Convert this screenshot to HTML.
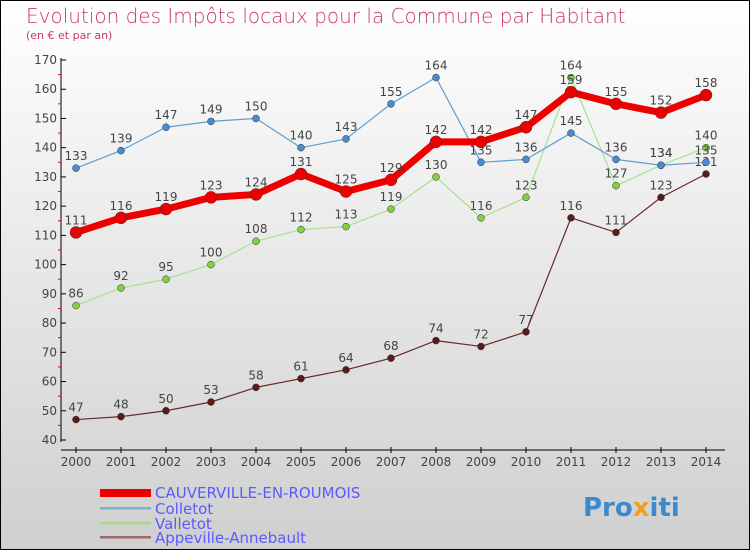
<!DOCTYPE html>
<html><head><meta charset="utf-8"><style>
body{margin:0}
svg{display:block;font-family:"DejaVu Sans","Liberation Sans",sans-serif}
</style></head><body>
<svg id="c" width="750" height="550" viewBox="0 0 750 550">
<defs><linearGradient id="bg" x1="0" y1="0" x2="0" y2="1"><stop offset="0" stop-color="#ffffff"/><stop offset="1" stop-color="#cfcfcf"/></linearGradient></defs>
<rect x="0.5" y="0.5" width="749" height="549" fill="url(#bg)" stroke="#000"/>
<text x="26" y="23" font-size="20" fill="#c8386a" font-weight="200">Evolution des Impôts locaux pour la Commune par Habitant</text>
<text x="26" y="39" font-size="11" fill="#c8386a">(en € et par an)</text>
<g id="axes"></g><g id="series"></g>
<g>
<rect x="100" y="489" width="51" height="8" fill="#e00"/>
<text x="155" y="498" font-size="15" fill="#5a5aff">CAUVERVILLE-EN-ROUMOIS</text>
<rect x="100" y="507" width="51" height="2.5" fill="#7fb0d0"/>
<text x="155" y="514" font-size="15" fill="#5a5aff">Colletot</text>
<rect x="100" y="522" width="51" height="2.5" fill="#a8d890"/>
<text x="155" y="529" font-size="15" fill="#5a5aff">Valletot</text>
<rect x="100" y="536" width="51" height="2.5" fill="#9a6a6a"/>
<text x="155" y="543" font-size="15" fill="#5a5aff">Appeville-Annebault</text>
</g>
<text x="583" y="516" font-size="26" font-weight="bold" fill="#3a8ad0">Pro<tspan fill="#f0a020">x</tspan>iti</text>
</svg>
<script>
const years=[2000,2001,2002,2003,2004,2005,2006,2007,2008,2009,2010,2011,2012,2013,2014];
const yTicks=[40,50,60,70,80,90,100,110,120,130,140,150,160,170];
const cauverville=[111,116,119,123,124,131,125,129,142,142,147,159,155,152,158];
const colletot=[133,139,147,149,150,140,143,155,164,135,136,145,136,134,135];
const valletot=[86,92,95,100,108,112,113,119,130,116,123,164,127,134,140];
const appeville=[47,48,50,53,58,61,64,68,74,72,77,116,111,123,131];
const NS="http://www.w3.org/2000/svg";
const X=i=>76+i*45;
const Y=v=>440-(v-40)*(380/130);
function mk(t,a,p){const e=document.createElementNS(NS,t);for(const k in a)e.setAttribute(k,a[k]);p.appendChild(e);return e;}
const ax=document.getElementById('axes');
let l=mk('line',{x1:61,y1:58,x2:61,y2:442,stroke:'#000'},ax);


l=mk('line',{x1:61,y1:450,x2:725,y2:450,stroke:'#000'},ax);


yTicks.forEach(v=>{
 mk('line',{x1:61,y1:Y(v),x2:66,y2:Y(v),stroke:'#000'},ax);
 if(v<170)mk('line',{x1:58,y1:Y(v+5),x2:61,y2:Y(v+5),stroke:'#e00'},ax);
 const t=mk('text',{x:57,y:Y(v)+4,'font-size':12,fill:'#444','text-anchor':'end'},ax);t.textContent=v;
 
 
});
years.forEach((y,i)=>{
 mk('line',{x1:X(i),y1:447,x2:X(i),y2:453,stroke:'#000'},ax);
 const t=mk('text',{x:X(i),y:466,'font-size':12,fill:'#444','text-anchor':'middle'},ax);t.textContent=y;
 
 
});
const sg=document.getElementById('series');
function series(vals,name,col,w,r,dot){
 const g=mk('g',{},sg);
 
 
 mk('polyline',{points:vals.map((v,i)=>X(i)+','+Y(v)).join(' '),fill:'none',stroke:col,'stroke-width':w,'stroke-linejoin':'round'},g);
 vals.forEach((v,i)=>{
  const c=mk('circle',{cx:X(i),cy:Y(v),r:r,fill:dot,stroke:'#333','stroke-width':0.5},g);
  
  
  const t=mk('text',{x:X(i),y:Y(v)-8,'font-size':12,fill:'#444','text-anchor':'middle'},g);t.textContent=v;
  
  
 });
}
series(appeville,'appeville','#6a2a2a',1.2,3.5,'#5a1a1a');
series(valletot,'valletot','#a8e090',1.2,3.5,'#80d040');
series(colletot,'colletot','#5f9fd0',1.2,3.5,'#4a8ad0');
series(cauverville,'cauverville','#e00',7,6,'#e00');
</script>
</body></html>
